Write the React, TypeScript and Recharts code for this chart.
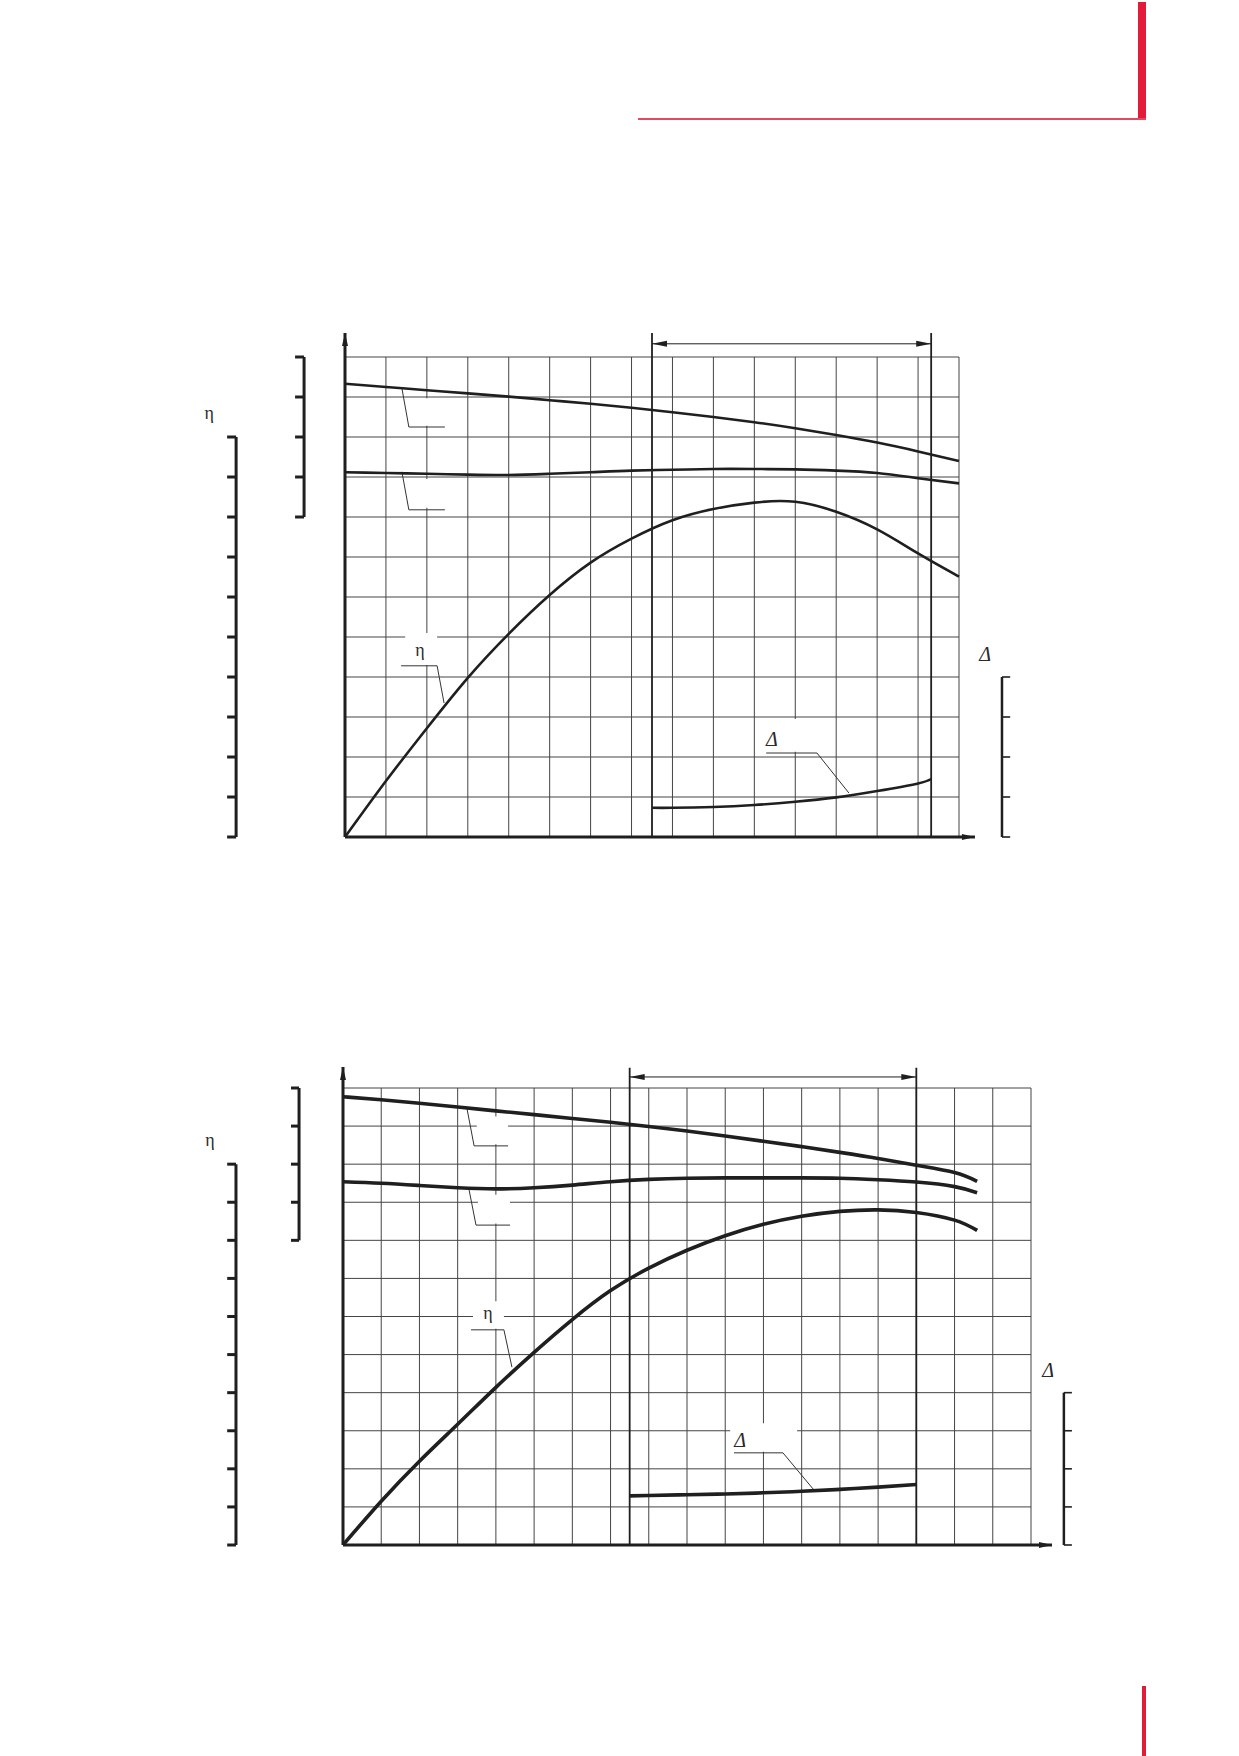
import React from "react";
import {
  LineChart,
  Line,
  XAxis,
  YAxis,
  ReferenceLine,
  ReferenceArea,
  ReferenceDot,
} from "recharts";

// x = Rasterspalte, y = Rasterzeile

// oberes Diagramm
const upperX = [0, 1, 2, 3, 4, 5, 6, 7, 8, 9, 10, 11, 12, 13, 14, 15];
const upperHead = [11.33, 11.25, 11.17, 11.09, 11.01, 10.92, 10.83, 10.73, 10.62, 10.5, 10.37, 10.22, 10.05, 9.86, 9.64, 9.4];
const upperPower = [9.12, 9.1, 9.08, 9.06, 9.05, 9.08, 9.12, 9.16, 9.18, 9.2, 9.2, 9.19, 9.16, 9.1, 8.97, 8.84];
const upperEta = [0, 1.4, 2.72, 3.98, 5.08, 6.05, 6.86, 7.46, 7.92, 8.2, 8.36, 8.38, 8.13, 7.69, 7.09, 6.51];
const upperNpshX = [7.5, 8, 9, 10, 11, 12, 13, 14, 14.32];
const upperNpsh = [0.73, 0.73, 0.75, 0.8, 0.88, 0.99, 1.15, 1.34, 1.45];

// unteres Diagramm
const lowerX = [0, 1, 2, 3, 4, 5, 6, 7, 8, 9, 10, 11, 12, 13, 14, 15, 16, 16.59];
const lowerHead = [11.77, 11.69, 11.6, 11.5, 11.4, 11.3, 11.2, 11.1, 10.99, 10.87, 10.74, 10.6, 10.46, 10.31, 10.15, 9.97, 9.78, 9.55];
const lowerPower = [9.54, 9.5, 9.44, 9.38, 9.35, 9.38, 9.45, 9.54, 9.6, 9.63, 9.64, 9.64, 9.64, 9.63, 9.59, 9.53, 9.41, 9.25];
const lowerEta = [0, 1.15, 2.2, 3.17, 4.14, 5.06, 5.92, 6.68, 7.27, 7.74, 8.12, 8.42, 8.63, 8.76, 8.8, 8.73, 8.53, 8.26];
const lowerNpshX = [7.5, 8, 9, 10, 11, 12, 13, 14, 15];
const lowerNpsh = [1.29, 1.3, 1.32, 1.34, 1.37, 1.41, 1.46, 1.52, 1.59];

const ETA_LABEL = "η";
const DELTA_LABEL = "Δ";

const INK = "#1f1f1f";
const GRID = "#444444";
const RED = "#e31b3b";
const SERIF = "'Liberation Serif', 'DejaVu Serif', serif";

type Pt = [number, number];
type XY = { x: number; y: number };

const zip = (xs: number[], ys: number[]): XY[] => xs.map((x, i) => ({ x, y: ys[i] }));
const range = (a: number, b: number) => Array.from({ length: b - a + 1 }, (_, i) => a + i);
const seg = (a: Pt, b: Pt) => [
  { x: a[0], y: a[1] },
  { x: b[0], y: b[1] },
];

// Linie mit Pfeilspitze(n)
const arrowLine =
  (start: boolean, end: boolean, width: number, len: number, half: number) => (p: any) => {
    const { x1, y1, x2, y2 } = p;
    const L = Math.hypot(x2 - x1, y2 - y1) || 1;
    const ux = (x2 - x1) / L;
    const uy = (y2 - y1) / L;
    const head = (tx: number, ty: number, dx: number, dy: number) => {
      const bx = tx - dx * len;
      const by = ty - dy * len;
      return `${tx},${ty} ${bx - dy * half},${by + dx * half} ${bx + dy * half},${by - dx * half}`;
    };
    return (
      <g>
        <line x1={x1} y1={y1} x2={x2} y2={y2} stroke={INK} strokeWidth={width} />
        {end && <polygon points={head(x2, y2, ux, uy)} fill={INK} />}
        {start && <polygon points={head(x1, y1, -ux, -uy)} fill={INK} />}
      </g>
    );
  };

const glyph = (ch: string, size: number, italic: boolean) => (p: any) => (
  <text
    x={p.cx}
    y={p.cy}
    textAnchor="middle"
    dominantBaseline="central"
    fontFamily={SERIF}
    fontSize={size}
    fontStyle={italic ? "italic" : "normal"}
    fill="#2a2a2a"
  >
    {ch}
  </text>
);

interface PanelProps {
  left: number;
  top: number;
  width: number;
  height: number;
  margin: { top: number; right: number; bottom: number; left: number };
  cols: number;
  head: XY[];
  power: XY[];
  eta: XY[];
  npsh: XY[];
  curveWidth: number;
  etaAxis: [number, number];
  scaleAxis: [number, number];
  npshAxis: [number, number];
  yArrowTop: number;
  xArrowEnd: number;
  brackets: [number, number];
  bracketTop: number;
  dimY: number;
  etaAxisLabel: Pt;
  npshAxisLabel: Pt;
  etaLabel: Pt;
  npshLabel: Pt;
  leaders: Pt[][];
  blanks: [number, number, number, number][];
}

const PumpChart: React.FC<PanelProps> = (g) => {
  const colTicks = range(0, g.cols);
  const rowTicks = range(0, 12);
  const plain = (key: string, a: Pt, b: Pt, w: number, color = INK) => (
    <ReferenceLine key={key} segment={seg(a, b)} stroke={color} strokeWidth={w} ifOverflow="visible" />
  );

  const decor: React.ReactNode[] = [];
  // η-Skala
  decor.push(plain("eta-spine", [g.etaAxis[0], 0], [g.etaAxis[0], 10], 3));
  range(0, 10).forEach((r) => decor.push(plain(`eta-t${r}`, [g.etaAxis[1], r], [g.etaAxis[0], r], 3)));
  // zweite Skala (Klammer)
  decor.push(plain("sc-spine", [g.scaleAxis[0], 8], [g.scaleAxis[0], 12], 3));
  range(8, 12).forEach((r) => decor.push(plain(`sc-t${r}`, [g.scaleAxis[1], r], [g.scaleAxis[0], r], 3)));
  // Δ-Skala rechts
  decor.push(plain("np-spine", [g.npshAxis[0], 0], [g.npshAxis[0], 4], 2.5));
  range(0, 4).forEach((r) => decor.push(plain(`np-t${r}`, [g.npshAxis[0], r], [g.npshAxis[1], r], 1.6)));
  // Arbeitsbereich
  g.brackets.forEach((bx, i) => decor.push(plain(`br${i}`, [bx, 0], [bx, g.bracketTop], 1.8)));
  // Hinweislinien
  g.leaders.forEach((pts, i) =>
    pts.slice(1).forEach((p, j) => decor.push(plain(`ld${i}-${j}`, pts[j], p, 1, "#333"))),
  );

  return (
    <div style={{ position: "absolute", left: g.left, top: g.top }}>
      <LineChart width={g.width} height={g.height} margin={g.margin}>
        <XAxis
          type="number"
          dataKey="x"
          domain={[0, g.cols]}
          ticks={colTicks}
          height={0}
          axisLine={false}
          tickLine={false}
          tick={false}
        />
        <YAxis
          type="number"
          domain={[0, 12]}
          ticks={rowTicks}
          width={0}
          axisLine={false}
          tickLine={false}
          tick={false}
        />
        {/* Raster */}
        {colTicks.map((c) => (
          <ReferenceLine key={`gx${c}`} x={c} stroke={GRID} strokeWidth={1} zIndex={-100} />
        ))}
        {rowTicks.map((r) => (
          <ReferenceLine key={`gy${r}`} y={r} stroke={GRID} strokeWidth={1} zIndex={-100} />
        ))}
        {/* freigestellte Beschriftungsfelder */}
        {g.blanks.map(([x1, x2, y1, y2], i) => (
          <ReferenceArea
            key={`bl${i}`}
            x1={x1}
            x2={x2}
            y1={y1}
            y2={y2}
            fill="#ffffff"
            fillOpacity={1}
            stroke="none"
            zIndex={-50}
          />
        ))}
        {decor}
        <ReferenceLine
          segment={seg([0, 0], [0, g.yArrowTop])}
          ifOverflow="visible"
          shape={arrowLine(false, true, 3, 13, 3)}
        />
        <ReferenceLine
          segment={seg([0, 0], [g.xArrowEnd, 0])}
          ifOverflow="visible"
          shape={arrowLine(false, true, 3, 13, 3)}
        />
        <ReferenceLine
          segment={seg([g.brackets[0], g.dimY], [g.brackets[1], g.dimY])}
          ifOverflow="visible"
          shape={arrowLine(true, true, 1, 15, 3)}
        />
        <Line data={g.head} dataKey="y" type="natural" dot={false} stroke={INK} strokeWidth={g.curveWidth} isAnimationActive={false} />
        <Line data={g.power} dataKey="y" type="natural" dot={false} stroke={INK} strokeWidth={g.curveWidth} isAnimationActive={false} />
        <Line data={g.eta} dataKey="y" type="natural" dot={false} stroke={INK} strokeWidth={g.curveWidth} isAnimationActive={false} />
        <Line data={g.npsh} dataKey="y" type="natural" dot={false} stroke={INK} strokeWidth={g.curveWidth} isAnimationActive={false} />
        <ReferenceDot x={g.etaAxisLabel[0]} y={g.etaAxisLabel[1]} ifOverflow="visible" shape={glyph(ETA_LABEL, 18, false)} />
        <ReferenceDot x={g.etaLabel[0]} y={g.etaLabel[1]} ifOverflow="visible" shape={glyph(ETA_LABEL, 18, false)} />
        <ReferenceDot x={g.npshAxisLabel[0]} y={g.npshAxisLabel[1]} ifOverflow="visible" shape={glyph(DELTA_LABEL, 20, true)} />
        <ReferenceDot x={g.npshLabel[0]} y={g.npshLabel[1]} ifOverflow="visible" shape={glyph(DELTA_LABEL, 20, true)} />
      </LineChart>
    </div>
  );
};

export default function App() {
  return (
    <div style={{ position: "absolute", left: 0, top: 0, width: 1239, height: 1756, background: "#fff" }}>
      {/* rote Seitenmarken */}
      <div style={{ position: "absolute", left: 1138, top: 2, width: 8, height: 118, background: RED }} />
      <div style={{ position: "absolute", left: 638, top: 118, width: 508, height: 2, background: "#e14a5f" }} />
      <div style={{ position: "absolute", left: 1142, top: 1686, width: 4, height: 70, background: RED }} />

      <PumpChart
        left={180}
        top={320}
        width={900}
        height={540}
        margin={{ top: 37, right: 121, bottom: 23, left: 165 }}
        cols={15}
        head={zip(upperX, upperHead)}
        power={zip(upperX, upperPower)}
        eta={zip(upperX, upperEta)}
        npsh={zip(upperNpshX, upperNpsh)}
        curveWidth={2.6}
        etaAxis={[-2.66, -2.88]}
        scaleAxis={[-1.0, -1.22]}
        npshAxis={[16.05, 16.25]}
        yArrowTop={12.6}
        xArrowEnd={15.39}
        brackets={[7.5, 14.32]}
        bracketTop={12.6}
        dimY={12.33}
        etaAxisLabel={[-3.32, 10.6]}
        npshAxisLabel={[15.64, 4.58]}
        etaLabel={[1.83, 4.68]}
        npshLabel={[10.43, 2.45]}
        leaders={[
          [[1.39, 11.22], [1.56, 10.25], [2.44, 10.25]],
          [[1.39, 9.13], [1.56, 8.18], [2.44, 8.18]],
          [[1.37, 4.28], [2.25, 4.28], [2.42, 3.35]],
          [[10.29, 2.1], [11.53, 2.1], [12.31, 1.1]],
        ]}
        blanks={[
          [1.6, 2.42, 10.28, 10.97],
          [1.6, 2.42, 8.23, 8.95],
          [1.47, 2.25, 4.3, 5.1],
          [10.15, 11.5, 2.13, 2.95],
        ]}
      />

      <PumpChart
        left={180}
        top={1040}
        width={900}
        height={530}
        margin={{ top: 48, right: 49, bottom: 25, left: 163 }}
        cols={18}
        head={zip(lowerX, lowerHead)}
        power={zip(lowerX, lowerPower)}
        eta={zip(lowerX, lowerEta)}
        npsh={zip(lowerNpshX, lowerNpsh)}
        curveWidth={3.6}
        etaAxis={[-2.8, -3.03]}
        scaleAxis={[-1.15, -1.36]}
        npshAxis={[18.86, 19.07]}
        yArrowTop={12.55}
        xArrowEnd={18.55}
        brackets={[7.5, 15]}
        bracketTop={12.53}
        dimY={12.29}
        etaAxisLabel={[-3.48, 10.64]}
        npshAxisLabel={[18.45, 4.6]}
        etaLabel={[3.79, 6.09]}
        npshLabel={[10.39, 2.76]}
        leaders={[
          [[3.24, 11.48], [3.43, 10.48], [4.32, 10.48]],
          [[3.3, 9.32], [3.48, 8.4], [4.37, 8.4]],
          [[3.35, 5.65], [4.21, 5.65], [4.42, 4.67]],
          [[10.23, 2.42], [11.51, 2.42], [12.3, 1.47]],
        ]}
        blanks={[
          [3.5, 4.32, 10.52, 11.25],
          [3.53, 4.37, 8.44, 9.2],
          [3.4, 4.21, 5.68, 6.4],
          [10.13, 11.88, 2.45, 3.2],
        ]}
      />
    </div>
  );
}
